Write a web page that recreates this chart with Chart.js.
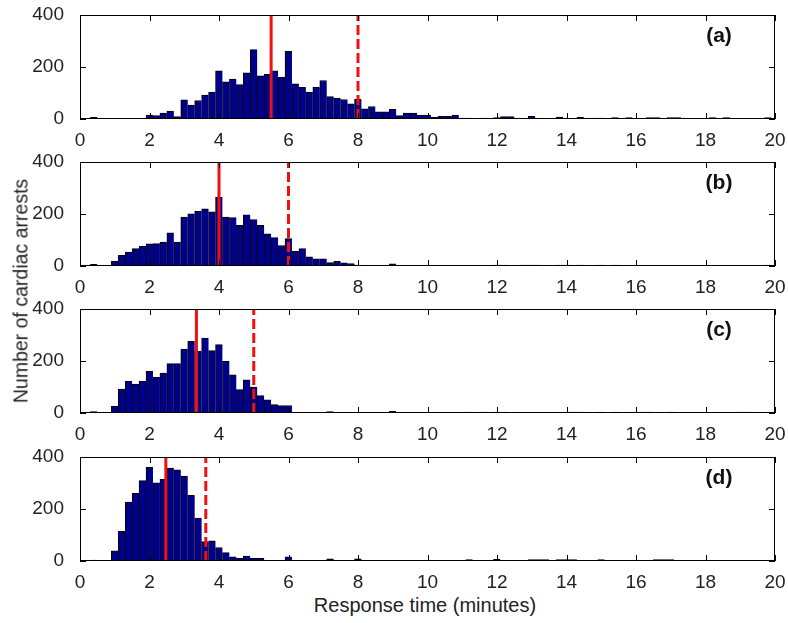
<!DOCTYPE html>
<html>
<head>
<meta charset="utf-8">
<script src="https://cdn.jsdelivr.net/npm/chart.js@4.4.0/dist/chart.umd.min.js"></script>
<style>
  body { margin: 0; background: #fff; width: 788px; height: 623px; position: relative; overflow: hidden;
         font-family: "Liberation Sans", Arial, sans-serif; color: #222; }
  canvas { position: absolute; left: 0; }
  #ylab { position: absolute; left: 21px; top: 291px; transform: translate(-50%, -50%) rotate(-90deg);
          font-size: 19.5px; white-space: nowrap; }
  #xlab { position: absolute; left: 425px; top: 605px; transform: translate(-50%, -50%);
          font-size: 20px; white-space: nowrap; }
</style>
</head>
<body>
<canvas id="pa" width="788" height="148" style="top:1px"></canvas>
<canvas id="pb" width="788" height="148" style="top:148px"></canvas>
<canvas id="pc" width="788" height="148" style="top:295px"></canvas>
<canvas id="pd" width="788" height="148" style="top:443px"></canvas>
<div id="ylab">Number of cardiac arrests</div>
<div id="xlab">Response time (minutes)</div>
<script>
// bin centres (minutes), 0.2 min bins
const binCenters = [0,0.2,0.4,0.6,0.8,1,1.2,1.4,1.6,1.8,2,2.2,2.4,2.6,2.8,3,3.2,3.4,3.6,3.8,
  4,4.2,4.4,4.6,4.8,5,5.2,5.4,5.6,5.8,6,6.2,6.4,6.6,6.8,7,7.2,7.4,7.6,7.8,
  8,8.2,8.4,8.6,8.8,9,9.2,9.4,9.6,9.8,10,10.2,10.4,10.6,10.8,11,11.2,11.4,11.6,11.8,
  12,12.2,12.4,12.6,12.8,13,13.2,13.4,13.6,13.8,14,14.2,14.4,14.6,14.8,15,15.2,15.4,15.6,15.8,
  16,16.2,16.4,16.6,16.8,17,17.2,17.4,17.6,17.8,18,18.2,18.4,18.6,18.8,19,19.2,19.4,19.6,19.8,20];

const countsA = [2,3,6,1,0,2,3,3,3,3,
  15,13,23,30,9,74,54,71,92,104,
  185,143,154,132,178,267,166,172,185,161,
  260,135,122,104,122,148,86,80,75,58,
  76,39,48,28,28,37,13,23,23,15,
  15,6,10,10,15,4,4,3,4,3,
  5,9,9,3,3,10,3,3,3,7,
  3,3,6,0,4,4,0,5,0,5,
  3,0,5,5,0,5,5,0,0,0,
  3,5,0,5,0,0,0,0,0,5,0];
const countsB = [3,4,6,0,0,18,41,54,67,76,
  85,86,92,128,92,188,201,210,220,208,
  265,188,186,156,197,179,156,124,109,79,
  105,56,67,35,28,28,13,18,12,9,
  4,2,2,1,3,8,2,1,1,1,
  2,0,3,3,3,3,3,3,3,1,
  4,4,0,0,4,4,4,0,0,4,
  4,0,4,0,0,4,0,4,0,0,
  2,0,0,0,3,3,0,0,0,0,
  1,0,0,0,0,0,0,0,0,4,0];
const countsC = [0,0,5,0,0,26,92,122,111,122,
  160,137,154,190,190,246,276,237,288,240,
  263,199,147,90,128,100,67,51,32,29,
  29,2,1,1,1,1,5,1,1,1,
  1,1,1,1,1,6,1,1,1,1,
  1,1,2,2,2,0,4,0,4,0,
  4,4,0,0,3,3,3,3,0,0,
  4,4,4,0,0,4,0,4,0,0,
  4,4,4,0,0,4,0,0,0,0,
  0,0,0,0,0,4,4,0,0,0,0];
const countsD = [0,0,4,0,0,39,114,227,260,309,
  360,301,314,357,351,327,253,165,75,78,
  52,32,16,10,19,10,10,3,3,3,
  16,3,2,2,2,2,8,2,2,2,
  8,2,2,2,2,2,2,2,2,2,
  3,3,3,3,0,0,5,0,0,0,
  6,0,0,0,0,5,5,5,0,5,
  5,5,0,0,0,5,0,0,0,0,
  0,0,0,5,5,5,0,0,0,0,
  0,0,0,0,0,0,0,0,0,0,0];

// solid and dashed red markers (minutes)
const solidAt = [5.5, 4.0, 3.35, 2.47];
const dashedAt = [8.0, 6.0, 5.0, 3.62];
const tags = ['(a)', '(b)', '(c)', '(d)'];

const frame = {
  id: 'frame',
  afterDatasetsDraw(chart, args, opts) {
    const ctx = chart.ctx, a = chart.chartArea, x = chart.scales.x, y = chart.scales.y;
    ctx.save();
    ctx.strokeStyle = '#000';
    ctx.lineWidth = 1;
    ctx.strokeRect(Math.round(a.left) + 0.5, Math.round(a.top) + 0.5,
                   Math.round(a.right - a.left) - 1, Math.round(a.bottom - a.top) - 1);
    ctx.beginPath();
    x.ticks.forEach(t => {
      const px = Math.round(x.getPixelForValue(t.value)) + 0.5;
      ctx.moveTo(px, a.bottom); ctx.lineTo(px, a.bottom - 6);
      ctx.moveTo(px, a.top); ctx.lineTo(px, a.top + 6);
    });
    y.ticks.forEach(t => {
      const py = Math.round(y.getPixelForValue(t.value)) + 0.5;
      ctx.moveTo(a.left, py); ctx.lineTo(a.left + 6, py);
      ctx.moveTo(a.right, py); ctx.lineTo(a.right - 6, py);
    });
    ctx.stroke();
    ctx.fillStyle = '#111';
    ctx.font = 'bold 21px "Liberation Sans", Arial, sans-serif';
    ctx.textAlign = 'center';
    ctx.textBaseline = 'middle';
    ctx.fillText(opts.tag, a.right - 56, a.top + 21);
    ctx.restore();
  }
};

function makePanel(id, counts, solid, dashed, tag) {
  return new Chart(document.getElementById(id), {
    type: 'bar',
    data: {
      datasets: [
        {
          type: 'line',
          data: [{x: solid, y: 0}, {x: solid, y: 400}],
          borderColor: '#f01010',
          borderWidth: 3,
          pointRadius: 0,
          order: 0
        },
        {
          type: 'line',
          data: [{x: dashed, y: 0}, {x: dashed, y: 400}],
          borderColor: '#f01010',
          borderWidth: 3,
          borderDash: [10, 4],
          pointRadius: 0,
          order: 0
        },
        {
          type: 'bar',
          data: binCenters.map((c, i) => ({x: c, y: counts[i]})),
          backgroundColor: '#000088',
          borderColor: '#000',
          borderWidth: {top: 1, left: 1, right: 0, bottom: 0},
          barPercentage: 1,
          categoryPercentage: 1,
          order: 1
        }
      ]
    },
    options: {
      responsive: false,
      animation: false,
      layout: {padding: {top: 14, right: 13, left: 0, bottom: 0}},
      plugins: {
        legend: {display: false},
        tooltip: {enabled: false},
        frame: {tag: tag}
      },
      scales: {
        x: {
          type: 'linear',
          min: 0, max: 20,
          offset: false,
          grid: {display: false},
          border: {display: false},
          ticks: {stepSize: 2, color: '#222', padding: 2,
                  font: {family: '"Liberation Sans", Arial, sans-serif', size: 19}},
          afterFit: s => { s.height = 30; s.paddingLeft = 0; s.paddingRight = 0; }
        },
        y: {
          min: 0, max: 400,
          grid: {display: false},
          border: {display: false},
          ticks: {stepSize: 200, color: '#222', padding: 8,
                  font: {family: '"Liberation Sans", Arial, sans-serif', size: 19}},
          afterFit: s => { s.width = 80; s.paddingTop = 0; s.paddingBottom = 0; }
        }
      }
    },
    plugins: [frame]
  });
}

makePanel('pa', countsA, solidAt[0], dashedAt[0], tags[0]);
makePanel('pb', countsB, solidAt[1], dashedAt[1], tags[1]);
makePanel('pc', countsC, solidAt[2], dashedAt[2], tags[2]);
makePanel('pd', countsD, solidAt[3], dashedAt[3], tags[3]);
</script>
</body>
</html>
